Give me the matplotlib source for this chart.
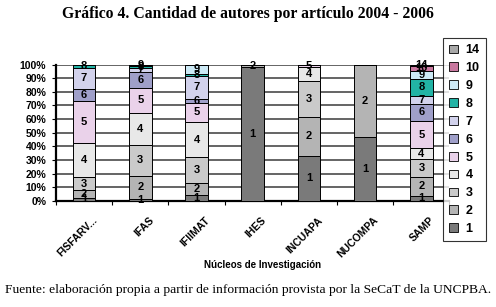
import matplotlib
matplotlib.use("Agg")
import matplotlib.pyplot as plt
import matplotlib.transforms as mtransforms
import numpy as np

# datos (porcentaje de articulos segun cantidad de autores)
nucleos = ["FISFARV...", "IFAS", "IFIIMAT", "IHES", "INCUAPA", "NUCOMPA", "SAMP"]
autores = ["1", "2", "3", "4", "5", "6", "7", "8", "9", "10", "14"]

a1 = [2.4, 1.7, 4.1, 98.5, 33.2, 47.1, 3.7]
a2 = [5.6, 16.8, 8.8, 1.5, 28.6, 52.9, 14.1]
a3 = [9.6, 22.4, 19.0, 0, 26.1, 0, 12.7]
a4 = [24.6, 23.8, 26.0, 0, 10.5, 0, 8.1]
a5 = [31.2, 18.3, 14.1, 0, 1.6, 0, 20.0]
a6 = [9.0, 11.7, 2.9, 0, 0, 0, 12.7]
a7 = [14.7, 2.9, 16.6, 0, 0, 0, 5.4]
a8 = [2.9, 1.2, 1.8, 0, 0, 0, 12.9]
a9 = [0, 1.2, 6.7, 0, 0, 0, 5.9]
a10 = [0, 0, 0, 0, 0, 0, 3.2]
a14 = [0, 0, 0, 0, 0, 0, 1.3]

series = [a1, a2, a3, a4, a5, a6, a7, a8, a9, a10, a14]
colores = ["#7a7a7a", "#b4b4b4", "#cacaca", "#e8e8e8", "#ead2ea", "#9f9fc9",
           "#d2d2ec", "#22b3a5", "#cdeaf6", "#c9789f", "#a8a8a8"]

data = np.array(series, dtype=float)
data = data / data.sum(axis=0) * 100

plt.rcParams["font.family"] = ["Liberation Sans", "DejaVu Sans"]

fig = plt.figure(figsize=(4.96, 3.07), dpi=100)
ax = fig.add_axes([0.1129, 0.3453, 0.7933, 0.4446])

x = np.arange(len(nucleos))
bottom = np.zeros(len(nucleos))
handles = []
for i, vals in enumerate(data):
    b = ax.bar(x, vals, 0.4, bottom=bottom, color=colores[i],
               edgecolor="black", linewidth=0.7, zorder=3)
    handles.append(b)
    for j, v in enumerate(vals):
        if v > 0:
            ax.text(x[j], bottom[j] + v / 2, autores[i], ha="center", va="center",
                    fontsize=8, fontweight="bold", zorder=4)
    bottom += vals

ax.set_xlim(-0.5, len(nucleos) - 0.5)
ax.set_ylim(0, 100)
ax.set_yticks(np.arange(0, 101, 10))
ax.set_yticklabels([f"{t}%" for t in range(0, 101, 10)], fontsize=7.5, fontweight="bold")
ax.yaxis.grid(True, color="#4a4a4a", linewidth=1.2, zorder=0)

ax.set_xticks(x)
ax.set_xticklabels(nucleos, rotation=45, ha="right", rotation_mode="anchor",
                   fontsize=7.5, fontweight="bold")
ax.tick_params(axis="x", length=0, pad=10)
# desplazar etiquetas a la derecha como en Excel
offset = mtransforms.ScaledTranslation(6 / 72, 0, fig.dpi_scale_trans)
for lab in ax.get_xticklabels():
    lab.set_transform(lab.get_transform() + offset)
ax.set_xticks(np.arange(-0.5, len(nucleos)), minor=True)
ax.tick_params(axis="x", which="minor", length=3, width=0.8)
ax.tick_params(axis="y", length=3, width=0.8, pad=4)

for s in ["top", "right"]:
    ax.spines[s].set_visible(False)
ax.spines["left"].set_linewidth(1.6)
ax.spines["bottom"].set_linewidth(1.6)

leg = fig.legend(handles[::-1], autores[::-1], loc="upper left",
                 bbox_to_anchor=(0.893, 0.876), frameon=True, fancybox=False,
                 handlelength=0.7, handleheight=0.7, handletextpad=0.6,
                 labelspacing=0.47, borderpad=0.5, borderaxespad=0,
                 prop={"weight": "bold", "size": 9})
leg.get_frame().set_edgecolor("black")
leg.get_frame().set_linewidth(0.8)
for h in leg.legend_handles:
    h.set_linewidth(0.6)

fig.text(0.53, 0.137, "Núcleos de Investigación", ha="center", va="center",
         fontsize=7, fontweight="bold")
fig.text(0.5, 0.955, "Gráfico 4. Cantidad de autores por artículo 2004 - 2006",
         ha="center", va="center", fontsize=11.3, fontweight="bold",
         family=["Liberation Serif", "DejaVu Serif"])
fig.text(0.5, 0.055, "Fuente: elaboración propia a partir de información provista por la SeCaT de la UNCPBA.",
         ha="center", va="center", fontsize=9.7,
         family=["Liberation Serif", "DejaVu Serif"])

fig.savefig("out.png", dpi=100)
